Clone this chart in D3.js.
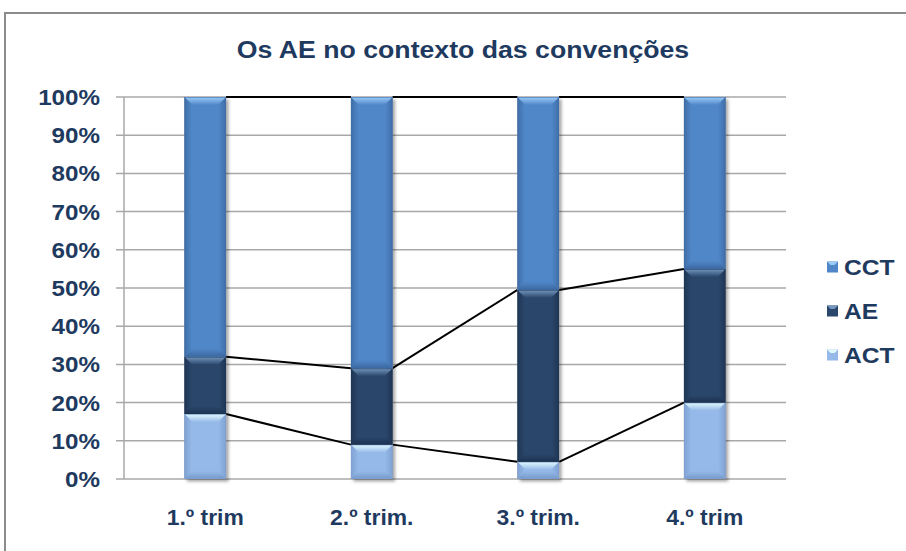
<!DOCTYPE html>
<html>
<head>
<meta charset="utf-8">
<script src="https://cdn.jsdelivr.net/npm/d3@7"></script>
<style>
  html, body { margin: 0; padding: 0; background: #fff; }
  svg { display: block; }
  text { font-family: "Liberation Sans", Arial, sans-serif; font-weight: bold; fill: #1F3A5F; }
</style>
</head>
<body>
<div id="chart"></div>
<script>
// chart data
var categories = ["1.º trim", "2.º trim.", "3.º trim.", "4.º trim"];
var seriesKeys = ["ACT", "AE", "CCT"];          // bottom to top
var actValues = [17, 9, 4.5, 20];
var aeValues = [15, 20, 45, 35];
var cctValues = [68, 71, 50.5, 45];
var yTicks = [0, 0.1, 0.2, 0.3, 0.4, 0.5, 0.6, 0.7, 0.8, 0.9, 1];
var legendOrder = ["CCT", "AE", "ACT"];
var title = "Os AE no contexto das convenções";

var W = 906, H = 551;
var svg = d3.select("#chart").append("svg").attr("width", W).attr("height", H);
var defs = svg.append("defs");

// styles per series
var pal = {
    CCT: { base: "#5087C8", light: "#9CCBF8", dark: "#38639A", edge: "#3F6EA8" },
    AE:  { base: "#2A476B", light: "#7497C0", dark: "#1A2F4D", edge: "#1F3555" },
    ACT: { base: "#95B9E8", light: "#E2FAFF", dark: "#7094C4", edge: "#7FA2D2" }
};

var shadow = defs.append("filter").attr("id", "shadow")
    .attr("x", "-20%").attr("y", "-5%").attr("width", "150%").attr("height", "115%");
shadow.append("feDropShadow").attr("dx", 2.5).attr("dy", 2.5)
    .attr("stdDeviation", 1.6).attr("flood-color", "#000").attr("flood-opacity", 0.35);

seriesKeys.forEach(function(k) {
    var p = pal[k];
    var g = defs.append("linearGradient").attr("id", "side-" + k).attr("x1", 0).attr("x2", 1).attr("y1", 0).attr("y2", 0);
    g.append("stop").attr("offset", "0%").attr("stop-color", p.edge);
    g.append("stop").attr("offset", "18%").attr("stop-color", p.base);
    g.append("stop").attr("offset", "82%").attr("stop-color", p.base);
    g.append("stop").attr("offset", "100%").attr("stop-color", p.edge);
    var t = defs.append("linearGradient").attr("id", "top-" + k).attr("x1", 0).attr("x2", 0).attr("y1", 0).attr("y2", 1);
    t.append("stop").attr("offset", "0%").attr("stop-color", p.light);
    t.append("stop").attr("offset", "100%").attr("stop-color", p.base);
    var b = defs.append("linearGradient").attr("id", "bot-" + k).attr("x1", 0).attr("x2", 0).attr("y1", 0).attr("y2", 1);
    b.append("stop").attr("offset", "0%").attr("stop-color", p.base);
    b.append("stop").attr("offset", "100%").attr("stop-color", p.dark);
});

// outer frame
svg.append("rect").attr("x", 5).attr("y", 13).attr("width", W + 20).attr("height", H + 20)
    .attr("fill", "none").attr("stroke", "#8C8C8C").attr("stroke-width", 2);

// title
svg.append("text").attr("transform", "translate(463,58) scale(1.16,1)")
    .attr("text-anchor", "middle").style("font-size", "23px").text(title);

// scales
var y = d3.scaleLinear().domain([0, 1]).range([479, 97]);
var x = d3.scaleBand().domain(categories).range([122, 788]).paddingInner(0.75).paddingOuter(0.375);

// gridlines
svg.append("g").selectAll("line").data(yTicks).enter().append("line")
    .attr("x1", 116).attr("x2", 786)
    .attr("y1", function(d) { return y(d); }).attr("y2", function(d) { return y(d); })
    .attr("stroke", "#A8A8A8").attr("stroke-width", 1.5);
svg.append("line").attr("x1", 124).attr("x2", 124).attr("y1", y(1)).attr("y2", y(0))
    .attr("stroke", "#A8A8A8").attr("stroke-width", 1.5);

// y labels
svg.append("g").selectAll("text").data(yTicks).enter().append("text")
    .attr("transform", function(d) { return "translate(100," + (y(d) + 8) + ") scale(1.1,1)"; })
    .attr("text-anchor", "end").style("font-size", "22px")
    .text(function(d) { return Math.round(d * 100) + "%"; });

// x labels
svg.append("g").selectAll("text").data(categories).enter().append("text")
    .attr("transform", function(d) { return "translate(" + (x(d) + x.bandwidth() / 2) + ",525) scale(1.04,1)"; })
    .attr("text-anchor", "middle").style("font-size", "22px")
    .text(function(d) { return d; });

// stack
var rows = categories.map(function(c, i) {
    var tot = actValues[i] + aeValues[i] + cctValues[i];
    return { cat: c, ACT: actValues[i] / tot, AE: aeValues[i] / tot, CCT: cctValues[i] / tot };
});
var stacked = d3.stack().keys(seriesKeys)(rows);

// series lines
stacked.forEach(function(s) {
    for (var i = 0; i < s.length - 1; i++) {
        svg.append("line")
            .attr("x1", x(categories[i]) + x.bandwidth()).attr("y1", y(s[i][1]))
            .attr("x2", x(categories[i + 1])).attr("y2", y(s[i + 1][1]))
            .attr("stroke", "#000").attr("stroke-width", 2);
    }
});

// bars with shadow + bevel
var bw = x.bandwidth();
var barsG = svg.append("g");
categories.forEach(function(c, i) {
    barsG.append("rect").attr("x", x(c)).attr("y", y(1)).attr("width", bw).attr("height", y(0) - y(1))
        .attr("fill", "#888").attr("filter", "url(#shadow)");
});
stacked.forEach(function(s) {
    var k = s.key;
    s.forEach(function(d, i) {
        var x0 = x(categories[i]), x1 = x0 + bw;
        var yt = y(d[1]), yb = y(d[0]);
        var h = yb - yt;
        var bv = Math.min(8, h / 2);
        var g = barsG.append("g");
        g.append("rect").attr("x", x0).attr("y", yt).attr("width", bw).attr("height", h)
            .attr("fill", "url(#side-" + k + ")");
        g.append("polygon")
            .attr("points", [[x0, yt], [x1, yt], [x1 - bv, yt + bv], [x0 + bv, yt + bv]].join(" "))
            .attr("fill", "url(#top-" + k + ")");
        g.append("polygon")
            .attr("points", [[x0, yb], [x1, yb], [x1 - bv, yb - bv], [x0 + bv, yb - bv]].join(" "))
            .attr("fill", "url(#bot-" + k + ")").attr("opacity", 0.85);
        g.append("rect").attr("x", x0 + 0.5).attr("y", yt + 0.5).attr("width", bw - 1).attr("height", Math.max(0, h - 1))
            .attr("fill", "none").attr("stroke", pal[k].edge).attr("stroke-width", 1).attr("opacity", 0.6);
    });
});

// legend
var leg = svg.append("g").selectAll("g").data(legendOrder).enter().append("g")
    .attr("transform", function(d, i) { return "translate(827," + (267 + i * 44) + ")"; });
leg.append("rect").attr("x", 0).attr("y", -5.5).attr("width", 11).attr("height", 11)
    .attr("fill", function(d) { return pal[d].base; });
leg.append("polygon").attr("points", "0,-5.5 11,-5.5 7.5,-2 3.5,-2")
    .attr("fill", function(d) { return pal[d].light; });
leg.append("text").attr("transform", "translate(17,8) scale(1.12,1)")
    .style("font-size", "22px").text(function(d) { return d; });
</script>
</body>
</html>
